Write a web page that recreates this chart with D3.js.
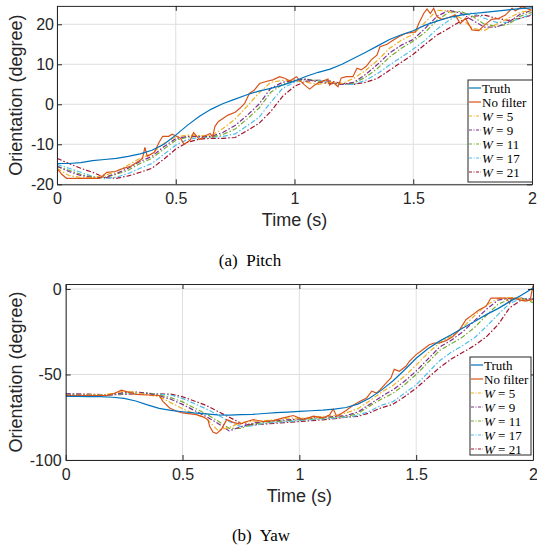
<!DOCTYPE html>
<html>
<head>
<meta charset="utf-8">
<script src="https://cdn.jsdelivr.net/npm/d3@7/dist/d3.min.js"></script>
<style>
  body { margin: 0; background: #fff; }
</style>
</head>
<body>
<div id="viz"></div>
<script>
// sample times of the filtered curves (s)
const sampleTime = [0, 0.05, 0.1, 0.15, 0.2, 0.25, 0.3, 0.35, 0.4, 0.45, 0.5, 0.55, 0.6, 0.65, 0.7, 0.75, 0.8, 0.85, 0.9, 0.95,
    1, 1.05, 1.1, 1.15, 1.2, 1.25, 1.3, 1.35, 1.4, 1.45, 1.5, 1.55, 1.6, 1.65, 1.7, 1.75, 1.8, 1.85, 1.9, 1.95, 2];

const seriesNames = ["Truth", "No filter", "W = 5", "W = 9", "W = 11", "W = 17", "W = 21"];
const seriesColors = ["#0072BD", "#D95319", "#EDB120", "#7E2F8E", "#77AC30", "#4DBEEE", "#A2142F"];

const xTicks = [0, 0.5, 1, 1.5, 2];
const pitchTicks = [-20, -10, 0, 10, 20];
const yawTicks = [-100, -50, 0];

// ---- Pitch ----
const pitchTruth = [-14.8, -14.8, -14.6, -14.1, -13.8, -13.5, -13.0, -12.4, -11.5, -10.0, -7.7, -5.2, -3.0, -1.2, 0.2, 1.3, 2.4, 3.3, 4.0, 4.8,
    5.8, 7.0, 8.0, 8.8, 10.0, 11.5, 13.0, 14.6, 16.2, 17.4, 18.4, 19.8, 20.8, 21.7, 22.3, 22.7, 23.0, 23.3, 23.6, 23.9, 24.1];

const pitchRawTime = [0, 0.02, 0.04, 0.1, 0.18, 0.21, 0.245, 0.28, 0.31, 0.35, 0.36, 0.37, 0.38, 0.41, 0.43, 0.445, 0.47, 0.485, 0.52, 0.535,
    0.56, 0.575, 0.6, 0.62, 0.645, 0.655, 0.665, 0.68, 0.7, 0.72, 0.75, 0.77, 0.79, 0.81, 0.83, 0.853, 0.88, 0.909, 0.937, 0.959,
    0.98, 1.008, 1.02, 1.043, 1.064, 1.085, 1.106, 1.141, 1.148, 1.162, 1.183, 1.197, 1.218, 1.246, 1.263, 1.281, 1.302, 1.323, 1.347, 1.36,
    1.39, 1.41, 1.439, 1.467, 1.509, 1.523, 1.544, 1.558, 1.572, 1.586, 1.6, 1.621, 1.649, 1.677, 1.698, 1.72, 1.747, 1.776, 1.8, 1.83,
    1.86, 1.888, 1.916, 1.93, 1.958, 1.986, 2];
const pitchRaw = [-16, -17.5, -18.5, -18.5, -18.5, -17, -16.8, -16, -15.5, -14, -13.5, -10.8, -13, -12, -9.5, -8, -8, -7.5, -8.5, -10,
    -9, -7.1, -8.8, -8, -7.3, -8.2, -5.5, -4.3, -3.5, -2.7, -2, -1, 0.2, 2.7, 3.5, 5.2, 5.7, 6.1, 6.9, 6.5,
    5.8, 6.9, 6.1, 4.8, 3.8, 4.8, 5.5, 6.3, 4.8, 5.5, 4.4, 6.6, 6.9, 6.9, 9.0, 8.6, 9.5, 11.1, 12.3, 14.4,
    15, 15.8, 16.9, 17.7, 18.1, 20.2, 22.7, 23.8, 22.7, 24, 21.9, 21.25, 21.7, 22.3, 20.2, 21.5, 18.6, 18.4, 19.8, 21.25,
    21.5, 22.3, 24, 23.4, 24.4, 23.8, 23.5];

const pitchW5 = [-16.0, -17.8, -18.3, -18.3, -17.8, -16.8, -15.2, -13.5, -12.3, -9.8, -8.1, -7.7, -7.8, -7.8, -6.0, -3.7, -0.5, 2.8, 5.5, 6.0,
    6.0, 5.5, 5.0, 5.5, 5.2, 6.5, 8.5, 11.0, 14.0, 16.0, 17.5, 20.5, 23.5, 23.3, 21.5, 19.0, 18.5, 20.0, 21.5, 23.0, 23.5];
const pitchW9 = [-15.5, -16.8, -17.8, -18.3, -18.3, -17.3, -16.0, -14.3, -13.0, -10.6, -8.6, -8.0, -8.0, -8.0, -7.0, -5.3, -2.8, 0.0, 4.0, 5.5,
    6.0, 6.3, 5.5, 5.2, 5.0, 5.5, 7.5, 10.0, 12.8, 14.8, 16.2, 19.0, 22.0, 23.5, 22.8, 21.0, 19.3, 19.3, 20.5, 22.5, 23.5];
const pitchW11 = [-15.5, -16.5, -17.5, -18.2, -18.3, -17.5, -16.5, -14.8, -13.5, -11.2, -9.0, -8.2, -8.0, -8.2, -7.5, -6.2, -3.7, -1.0, 3.0, 5.0,
    6.0, 6.3, 5.8, 5.3, 5.0, 5.3, 6.8, 9.0, 11.8, 14.0, 15.8, 18.0, 21.0, 23.0, 23.2, 22.0, 20.0, 19.5, 20.0, 22.0, 23.0];
const pitchW17 = [-15.0, -16.0, -17.0, -18.0, -18.6, -18.2, -17.3, -16.0, -14.8, -12.5, -10.2, -8.8, -8.3, -8.3, -8.0, -7.4, -5.4, -3.3, 0.5, 4.0,
    5.5, 6.2, 6.0, 5.5, 5.0, 5.0, 6.0, 7.7, 9.8, 11.8, 13.8, 16.0, 18.8, 21.0, 22.5, 22.8, 21.5, 20.5, 20.5, 21.5, 22.5];
const pitchW21 = [-13.5, -14.8, -16.0, -17.0, -18.3, -18.5, -17.9, -17.0, -16.0, -13.7, -11.2, -9.5, -8.7, -8.5, -8.5, -8.3, -6.6, -4.8, -1.8, 2.0,
    4.5, 5.8, 6.0, 5.8, 5.2, 5.0, 5.5, 6.5, 8.5, 10.5, 12.5, 15.0, 17.3, 19.0, 20.8, 22.0, 22.3, 21.5, 21.0, 21.5, 22.3];

// ---- Yaw ----
const yawTruth = [-62.8, -62.8, -62.9, -63.0, -63.3, -64.0, -65.5, -67.8, -69.8, -71.0, -71.8, -72.5, -73.0, -73.6, -73.8, -73.5, -73.3, -72.8, -72.3, -72.0,
    -71.6, -71.2, -70.8, -70.2, -69.3, -67.3, -63.9, -59.3, -53.8, -47.4, -40.5, -35.0, -30.5, -26.8, -22.8, -19.0, -15.0, -11.5, -7.4, -3.7, 0.6];

const yawRawTime = [0, 0.1, 0.18, 0.21, 0.238, 0.26, 0.3, 0.35, 0.4, 0.416, 0.445, 0.474, 0.5, 0.56, 0.59, 0.609, 0.616, 0.63, 0.645, 0.666,
    0.689, 0.717, 0.746, 0.775, 0.803, 0.846, 0.889, 0.931, 0.974, 1.017, 1.06, 1.103, 1.13, 1.145, 1.16, 1.2, 1.23, 1.26, 1.288, 1.31,
    1.331, 1.345, 1.371, 1.392, 1.406, 1.428, 1.456, 1.471, 1.5, 1.528, 1.556, 1.578, 1.6, 1.628, 1.656, 1.685, 1.713, 1.742, 1.77, 1.799,
    1.82, 1.84, 1.885, 1.9, 1.91, 1.94, 1.966, 1.988, 2];
const yawRaw = [-62.3, -62.3, -62.2, -61, -59.2, -60, -61.6, -62, -62.3, -65.7, -69.6, -71.5, -72.5, -73.5, -74.9, -76.5, -80.3, -83.6, -84.6, -82.2,
    -76.4, -78, -79, -77.5, -76.4, -77.5, -77, -75.4, -74, -76.4, -74.4, -75.4, -73.5, -70.2, -74.5, -71, -68, -65.7, -63.7, -59.8,
    -60.8, -59, -55, -52, -47, -48.1, -45.2, -42.3, -38.4, -35.5, -32.6, -31.6, -31.6, -30.2, -27.9, -24, -18, -15, -12.1, -10.2,
    -5.3, -5.3, -5.3, -8.2, -5.3, -6.2, -7.1, -6.5, 2];

const yawW5 = [-62.0, -62.0, -62.0, -62.0, -61.0, -59.8, -60.5, -62.0, -63.0, -66.5, -70.0, -73.0, -75.5, -82.5, -81.0, -78.0, -77.5, -77.0, -76.5, -75.5,
    -75.5, -75.5, -74.5, -74.0, -72.5, -70.0, -65.5, -60.5, -56.5, -51.0, -44.5, -37.5, -31.5, -27.5, -22.5, -15.5, -9.5, -5.5, -5.0, -5.5, -7.0];
const yawW9 = [-61.5, -61.8, -62.0, -62.0, -61.8, -60.5, -60.3, -61.0, -62.5, -64.5, -67.5, -71.0, -74.5, -78.5, -83.0, -80.5, -78.5, -77.5, -77.0, -76.5,
    -76.0, -75.5, -75.0, -74.5, -74.0, -72.0, -67.5, -63.0, -59.0, -54.0, -48.0, -41.0, -34.0, -30.0, -25.0, -18.5, -12.0, -6.5, -5.5, -5.5, -6.0];
const yawW11 = [-61.8, -61.8, -61.9, -62.0, -61.8, -61.0, -60.5, -60.8, -62.0, -63.5, -66.0, -69.5, -73.0, -77.0, -81.5, -81.5, -79.0, -78.0, -77.5, -77.0,
    -76.5, -76.0, -75.5, -75.0, -74.5, -73.0, -68.5, -64.5, -61.0, -56.0, -50.0, -43.0, -36.0, -32.0, -28.0, -22.5, -15.5, -9.0, -6.0, -5.5, -8.0];
const yawW17 = [-61.5, -61.6, -61.8, -61.9, -61.8, -61.3, -61.0, -61.0, -61.5, -62.0, -64.0, -67.0, -70.0, -73.5, -77.5, -80.5, -80.0, -78.5, -78.0, -77.5,
    -77.0, -76.5, -76.0, -75.5, -75.0, -74.0, -71.5, -68.0, -66.0, -61.0, -56.0, -49.0, -42.0, -37.0, -33.0, -28.5, -22.0, -15.0, -8.5, -5.5, -6.0];
const yawW21 = [-61.2, -61.3, -61.5, -61.7, -61.8, -61.7, -61.3, -61.2, -61.3, -61.5, -63.0, -65.5, -68.0, -71.5, -75.0, -78.5, -79.5, -79.0, -78.5, -78.0,
    -77.5, -77.0, -76.5, -75.8, -75.0, -74.5, -72.5, -69.5, -67.5, -63.0, -58.0, -52.0, -46.0, -41.0, -37.0, -33.0, -28.0, -21.0, -11.0, -6.5, -6.0];

const width = 537;
const height = 547;
const serif = "'Liberation Serif', 'DejaVu Serif', serif";
const sans = "'Liberation Sans', Arial, sans-serif";

const svg = d3.select('#viz').append('svg')
    .attr('width', width)
    .attr('height', height);

function pairs(ts, vs) {
    return ts.map((t, i) => [t, vs[i]]);
}

function drawPanel(p) {
    const x = d3.scaleLinear().domain([0, 2]).range([p.left, p.right]);
    const y = d3.scaleLinear().domain(p.yDomain).range([p.bottom, p.top]);
    const g = svg.append('g');

    g.append('clipPath').attr('id', p.id)
        .append('rect')
        .attr('x', p.left).attr('y', p.top)
        .attr('width', p.right - p.left).attr('height', p.bottom - p.top);

    // grid
    g.append('g').selectAll('line').data(xTicks).join('line')
        .attr('x1', d => x(d)).attr('x2', d => x(d))
        .attr('y1', p.top).attr('y2', p.bottom)
        .attr('stroke', '#dfdfdf').attr('stroke-width', 1);
    g.append('g').selectAll('line').data(p.yTicks).join('line')
        .attr('x1', p.left).attr('x2', p.right)
        .attr('y1', d => y(d)).attr('y2', d => y(d))
        .attr('stroke', '#dfdfdf').attr('stroke-width', 1);

    const line = d3.line().x(d => x(d[0])).y(d => y(d[1]));

    const series = [
        pairs(sampleTime, p.truth),
        pairs(p.rawTime, p.raw),
        pairs(sampleTime, p.w5),
        pairs(sampleTime, p.w9),
        pairs(sampleTime, p.w11),
        pairs(sampleTime, p.w17),
        pairs(sampleTime, p.w21)
    ];

    // draw the filtered ones first, truth and raw on top
    const order = [6, 5, 4, 3, 2, 1, 0];
    g.append('g').attr('clip-path', `url(#${p.id})`)
        .selectAll('path').data(order).join('path')
        .attr('d', i => line(series[i]))
        .attr('fill', 'none')
        .attr('stroke', i => seriesColors[i])
        .attr('stroke-width', 1.2)
        .attr('stroke-dasharray', i => i > 1 ? '5,2,1.5,2' : null);

    // axes (MATLAB style: inward ticks on all four sides)
    const axisColor = '#262626';
    const bottomAxis = g.append('g')
        .attr('transform', `translate(0,${p.bottom})`)
        .call(d3.axisBottom(x).tickValues(xTicks).tickFormat(d3.format('')).tickSizeInner(-5).tickSizeOuter(0).tickPadding(p.xPad));
    const topAxis = g.append('g')
        .attr('transform', `translate(0,${p.top})`)
        .call(d3.axisTop(x).tickValues(xTicks).tickFormat('').tickSizeInner(-5).tickSizeOuter(0));
    const leftAxis = g.append('g')
        .attr('transform', `translate(${p.left},0)`)
        .call(d3.axisLeft(y).tickValues(p.yTicks).tickFormat(d3.format('')).tickSizeInner(-5).tickSizeOuter(0).tickPadding(p.yPad));
    const rightAxis = g.append('g')
        .attr('transform', `translate(${p.right},0)`)
        .call(d3.axisRight(y).tickValues(p.yTicks).tickFormat('').tickSizeInner(-5).tickSizeOuter(0));

    [bottomAxis, topAxis, leftAxis, rightAxis].forEach(a => {
        a.select('.domain').attr('stroke', axisColor).attr('stroke-width', 1);
        a.selectAll('.tick line').attr('stroke', axisColor).attr('stroke-width', 1);
        a.selectAll('.tick text')
            .attr('fill', '#262626')
            .style('font-family', sans)
            .style('font-size', '16px');
    });
    // MATLAB writes minus as a plain hyphen
    leftAxis.selectAll('.tick text').text(d => String(d));

    g.append('text')
        .attr('x', (p.left + p.right) / 2)
        .attr('y', p.xLabelY)
        .attr('text-anchor', 'middle')
        .style('font-family', sans)
        .style('font-size', '18px')
        .attr('fill', '#262626')
        .text('Time (s)');

    g.append('text')
        .attr('transform', `translate(${p.yLabelX},${(p.top + p.bottom) / 2}) rotate(-90)`)
        .attr('text-anchor', 'middle')
        .style('font-family', sans)
        .style('font-size', '18px')
        .attr('fill', '#262626')
        .text('Orientation (degree)');

    // legend
    const lg = g.append('g').attr('transform', `translate(${p.legend.x},${p.legend.y})`);
    lg.append('rect')
        .attr('width', p.legend.w).attr('height', p.legend.h)
        .attr('fill', '#fff').attr('stroke', axisColor).attr('stroke-width', 1);
    const rows = lg.selectAll('g.row').data(seriesNames).join('g')
        .attr('class', 'row')
        .attr('transform', (d, i) => `translate(0,${8 + i * 14})`);
    rows.append('line')
        .attr('x1', 1).attr('x2', 13)
        .attr('stroke', (d, i) => seriesColors[i])
        .attr('stroke-width', 1.2)
        .attr('stroke-dasharray', (d, i) => i > 1 ? '3,1.5,1,1.5' : null);
    const label = rows.append('text')
        .attr('x', 14).attr('y', 4.5)
        .style('font-family', serif)
        .style('font-size', '13px')
        .attr('fill', '#000');
    label.each(function (d) {
        const t = d3.select(this);
        if (d.startsWith('W')) {
            t.append('tspan').style('font-style', 'italic').text('W');
            t.append('tspan').text(d.slice(1));
        } else {
            t.text(d);
        }
    });

    svg.append('text')
        .attr('x', p.captionX)
        .attr('y', p.captionY)
        .attr('text-anchor', 'middle')
        .style('font-family', serif)
        .style('font-size', '17px')
        .attr('fill', '#000')
        .attr('xml:space', 'preserve')
        .text(p.caption);
}

drawPanel({
    id: 'clip-pitch',
    left: 57, right: 532, top: 5.9, bottom: 184.3,
    yDomain: [-20, 24.6], yTicks: pitchTicks,
    truth: pitchTruth, rawTime: pitchRawTime, raw: pitchRaw,
    w5: pitchW5, w9: pitchW9, w11: pitchW11, w17: pitchW17, w21: pitchW21,
    xPad: 8, yPad: 3,
    xLabelY: 226, yLabelX: 22,
    legend: { x: 468, y: 80, w: 64.5, h: 102 },
    caption: '(a)  Pitch', captionX: 250, captionY: 266
});

drawPanel({
    id: 'clip-yaw',
    left: 65.7, right: 533, top: 284, bottom: 460,
    yDomain: [-100, 2.9], yTicks: yawTicks,
    truth: yawTruth, rawTime: yawRawTime, raw: yawRaw,
    w5: yawW5, w9: yawW9, w11: yawW11, w17: yawW17, w21: yawW21,
    xPad: 9, yPad: 4,
    xLabelY: 502, yLabelX: 22,
    legend: { x: 470, y: 357, w: 61, h: 98 },
    caption: '(b)  Yaw', captionX: 261, captionY: 541
});
</script>
</body>
</html>
